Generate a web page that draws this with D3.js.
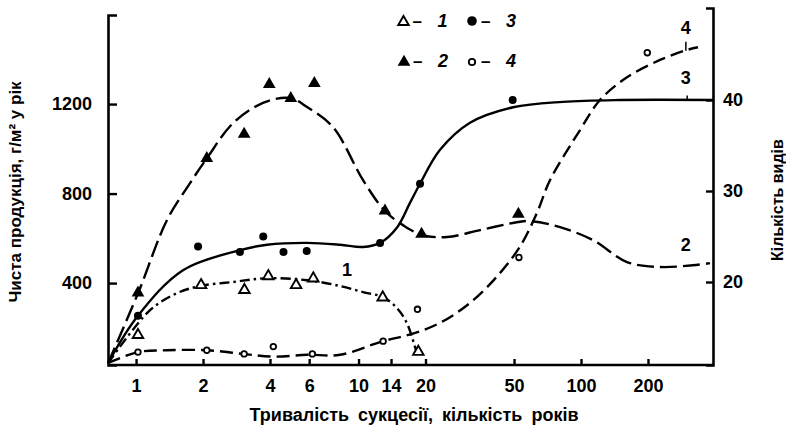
<!DOCTYPE html>
<html>
<head>
<meta charset="utf-8">
<script src="https://cdn.jsdelivr.net/npm/d3@7"></script>
<style>
  html, body { margin: 0; padding: 0; background: #fff; }
  svg { display: block; }
  text { font-family: "Liberation Sans", Arial, sans-serif; fill: #000; font-weight: bold; }
</style>
</head>
<body>
<svg id="chart" width="786" height="426"></svg>
<script>
// ---------- data ----------
const xTicks = [1, 2, 4, 6, 10, 14, 20, 50, 100, 200];
const leftTicks = [400, 800, 1200];
const rightTicks = [20, 30, 40];

// observed points (markers)
const s1Years  = [1.02, 1.96, 3.07, 3.93, 5.24, 6.26, 12.84, 18.57];
const s1Values = [168, 391, 369, 431, 391, 421, 336, 93];
const s2Years  = [1.02, 2.08, 3.06, 3.97, 4.96, 6.33, 13.15, 19.2, 52.3];
const s2Values = [357, 957, 1066, 1288, 1226, 1293, 723, 619, 708];
const s3Years  = [1.02, 1.9, 2.93, 3.73, 4.6, 5.85, 12.5, 18.9, 49.3];
const s3Values = [16.3, 23.9, 23.3, 25.0, 23.3, 23.4, 24.3, 30.8, 40.0];
const s4Years  = [1.02, 2.08, 3.06, 4.14, 6.2, 12.9, 18.4, 52.6, 198.6];
const s4Values = [12.3, 12.5, 12.1, 12.9, 12.1, 13.5, 17.0, 22.7, 45.2];

// fitted curves
const c1Years  = [0.748, 1.156, 1.528, 1.94, 2.73, 3.88, 5.87, 8.26, 10.48, 12.88, 14.9, 16.5, 18.1];
const c1Values = [42, 279, 355, 387, 405, 422, 413, 387, 360, 337, 288, 221, 101];
const c2Years  = [0.748, 1.021, 1.378, 1.749, 2.085, 2.73, 3.72, 4.92, 5.87, 7.68, 10.48, 13.15, 15.85, 19.3, 25, 35.2, 52.1, 59, 80.5, 113.2, 161, 226.5, 318.6, 380];
const c2Values = [42, 355, 682, 847, 959, 1115, 1205, 1227, 1187, 1097, 860, 722, 659, 615, 606, 637, 673, 677, 650, 592, 494, 472, 480, 489];
const c3Years  = [0.748, 1.02, 1.626, 2.93, 3.88, 5.87, 8.26, 10.48, 12.5, 14.9, 17.03, 18.9, 23.2, 31.7, 49.5, 83, 149.7, 392];
const c3Values = [11.1, 16.3, 21.3, 23.5, 24.1, 24.3, 24.1, 23.85, 24.3, 26.0, 28.7, 30.8, 34.5, 37.5, 39.2, 39.8, 40, 40];
const c4Years  = [0.748, 1.021, 1.378, 2.085, 3.03, 4.13, 5.87, 8.26, 12.88, 17.4, 23.2, 31.7, 41.9, 53.2, 63.4, 72.6, 99, 121.7, 161, 226.5, 299.5, 335.6];
const c4Values = [11.1, 12.3, 12.5, 12.5, 12.1, 11.8, 12.0, 12.0, 13.5, 14.3, 15.5, 17.7, 20.6, 23.9, 27.6, 31.2, 36.7, 40.0, 42.5, 44.4, 45.5, 45.8];

const seriesLabels = ["1", "2", "3", "4"];
const xTitle = "Тривалість сукцесії, кількість років";
const yLeftTitle = "Чиста продукція, г/м² у рік";
const yRightTitle = "Кількість видів";

// ---------- scales ----------
const svg = d3.select("#chart");
const x = d3.scaleLog().domain([0.748, 392]).range([108, 713]);
const yL = d3.scaleLinear().domain([34, 1598]).range([365, 15]);
const yR = d3.scaleLinear().domain([10.88, 50.11]).range([365, 8]);

const zip = (xs, ys) => xs.map((d, i) => [d, ys[i]]);

// ---------- axes ----------
const axisStyle = g => {
  g.selectAll("path.domain").attr("stroke", "#000").attr("stroke-width", 2.6);
  g.selectAll(".tick line").attr("stroke", "#000").attr("stroke-width", 2.4);
  g.selectAll(".tick text").attr("font-size", 18).attr("font-weight", "bold")
    .attr("font-family", "Liberation Sans, Arial, sans-serif");
};

svg.append("g")
  .attr("transform", "translate(0,365)")
  .call(d3.axisBottom(x).tickValues(xTicks).tickFormat(d3.format("d"))
    .tickSizeInner(-6).tickSizeOuter(0).tickPadding(14))
  .call(axisStyle)
  .call(g => g.selectAll("path.domain").attr("d", "M108,0H713"));

svg.append("g")
  .attr("transform", "translate(108,0)")
  .call(d3.axisLeft(yL).tickValues(leftTicks).tickFormat(d3.format("d"))
    .tickSizeInner(-9).tickSizeOuter(-9).tickPadding(16))
  .call(axisStyle);

svg.append("g")
  .attr("transform", "translate(713,0)")
  .call(d3.axisRight(yR).tickValues(rightTicks).tickFormat(d3.format("d"))
    .tickSizeInner(-7).tickSizeOuter(-7).tickPadding(10))
  .call(axisStyle);

// ---------- curves ----------
const curve = d3.curveCatmullRom.alpha(0.5);
const lineL = d3.line().x(d => x(d[0])).y(d => yL(d[1])).curve(curve);
const lineR = d3.line().x(d => x(d[0])).y(d => yR(d[1])).curve(curve);

const curves = [
  { pts: zip(c1Years, c1Values), line: lineL, dash: "10,4,2.5,4" },
  { pts: zip(c2Years, c2Values), line: lineL, dash: "17,6" },
  { pts: zip(c3Years, c3Values), line: lineR, dash: null },
  { pts: zip(c4Years, c4Values), line: lineR, dash: "13,6" }
];
curves.forEach(c => {
  svg.append("path")
    .attr("d", c.line(c.pts))
    .attr("fill", "none")
    .attr("stroke", "#000")
    .attr("stroke-width", 2.4)
    .attr("stroke-dasharray", c.dash);
});

// ---------- markers ----------
const triOpen = d3.symbol().type(d3.symbolTriangle).size(48);
const triFill = d3.symbol().type(d3.symbolTriangle).size(70);

svg.append("g").selectAll("path").data(zip(s1Years, s1Values)).join("path")
  .attr("d", triOpen)
  .attr("transform", d => `translate(${x(d[0])},${yL(d[1])})`)
  .attr("fill", "#fff").attr("stroke", "#000").attr("stroke-width", 1.9);

svg.append("g").selectAll("path").data(zip(s2Years, s2Values)).join("path")
  .attr("d", triFill)
  .attr("transform", d => `translate(${x(d[0])},${yL(d[1])})`)
  .attr("fill", "#000");

svg.append("g").selectAll("circle").data(zip(s3Years, s3Values)).join("circle")
  .attr("cx", d => x(d[0])).attr("cy", d => yR(d[1])).attr("r", 4)
  .attr("fill", "#000");

svg.append("g").selectAll("circle").data(zip(s4Years, s4Values)).join("circle")
  .attr("cx", d => x(d[0])).attr("cy", d => yR(d[1])).attr("r", 2.8)
  .attr("fill", "#fff").attr("stroke", "#000").attr("stroke-width", 1.8);

// ---------- curve labels ----------
const lbl = (tx, ty, t) => svg.append("text")
  .attr("x", tx).attr("y", ty).attr("dy", "0.35em")
  .attr("text-anchor", "middle").attr("font-size", 18).text(t);
lbl(x(8.88), yL(458), seriesLabels[0]);
lbl(x(296), yL(570), seriesLabels[1]);
lbl(x(296), yR(42.4), seriesLabels[2]);
lbl(x(296), yR(47.9), seriesLabels[3]);
// small leader marks
svg.append("line").attr("x1", x(296)).attr("x2", x(296)).attr("y1", yR(46.4)).attr("y2", yR(45.4))
  .attr("stroke", "#000").attr("stroke-width", 1.5);
svg.append("line").attr("x1", x(300)).attr("x2", x(300)).attr("y1", yR(40.5)).attr("y2", yR(40))
  .attr("stroke", "#000").attr("stroke-width", 1.5);

// ---------- legend ----------
const legend = svg.append("g");
const legRows = [
  { sx: 403.5, sy: 21, kind: "triOpen", label: seriesLabels[0] },
  { sx: 472,   sy: 21, kind: "circFill", label: seriesLabels[2] },
  { sx: 404,   sy: 61, kind: "triFill", label: seriesLabels[1] },
  { sx: 472,   sy: 61, kind: "circOpen", label: seriesLabels[3] }
];
legRows.forEach(r => {
  if (r.kind === "triOpen") legend.append("path").attr("d", triOpen).attr("transform", `translate(${r.sx},${r.sy + 1})`).attr("fill", "#fff").attr("stroke", "#000").attr("stroke-width", 1.9);
  if (r.kind === "triFill") legend.append("path").attr("d", triFill).attr("transform", `translate(${r.sx},${r.sy + 1})`).attr("fill", "#000");
  if (r.kind === "circFill") legend.append("circle").attr("cx", r.sx).attr("cy", r.sy).attr("r", 4.8).attr("fill", "#000");
  if (r.kind === "circOpen") legend.append("circle").attr("cx", r.sx).attr("cy", r.sy + 1).attr("r", 3.2).attr("fill", "#fff").attr("stroke", "#000").attr("stroke-width", 1.8);
  legend.append("text").attr("x", r.sx + 9).attr("y", r.sy).attr("dy", "0.35em")
    .attr("font-size", 17).text("–");
  legend.append("text").attr("x", r.sx + 34).attr("y", r.sy).attr("dy", "0.35em")
    .attr("font-size", 18).attr("font-style", "italic").text(r.label);
});

// ---------- titles ----------
svg.append("text").attr("x", 414).attr("y", 421).attr("text-anchor", "middle")
  .attr("font-size", 18).attr("word-spacing", 4).text(xTitle);
svg.append("text").attr("transform", "translate(21,192) rotate(-90)")
  .attr("text-anchor", "middle").attr("font-size", 17).text(yLeftTitle);
svg.append("text").attr("transform", "translate(783,200) rotate(-90)")
  .attr("text-anchor", "middle").attr("font-size", 16).text(yRightTitle);
</script>
</body>
</html>
